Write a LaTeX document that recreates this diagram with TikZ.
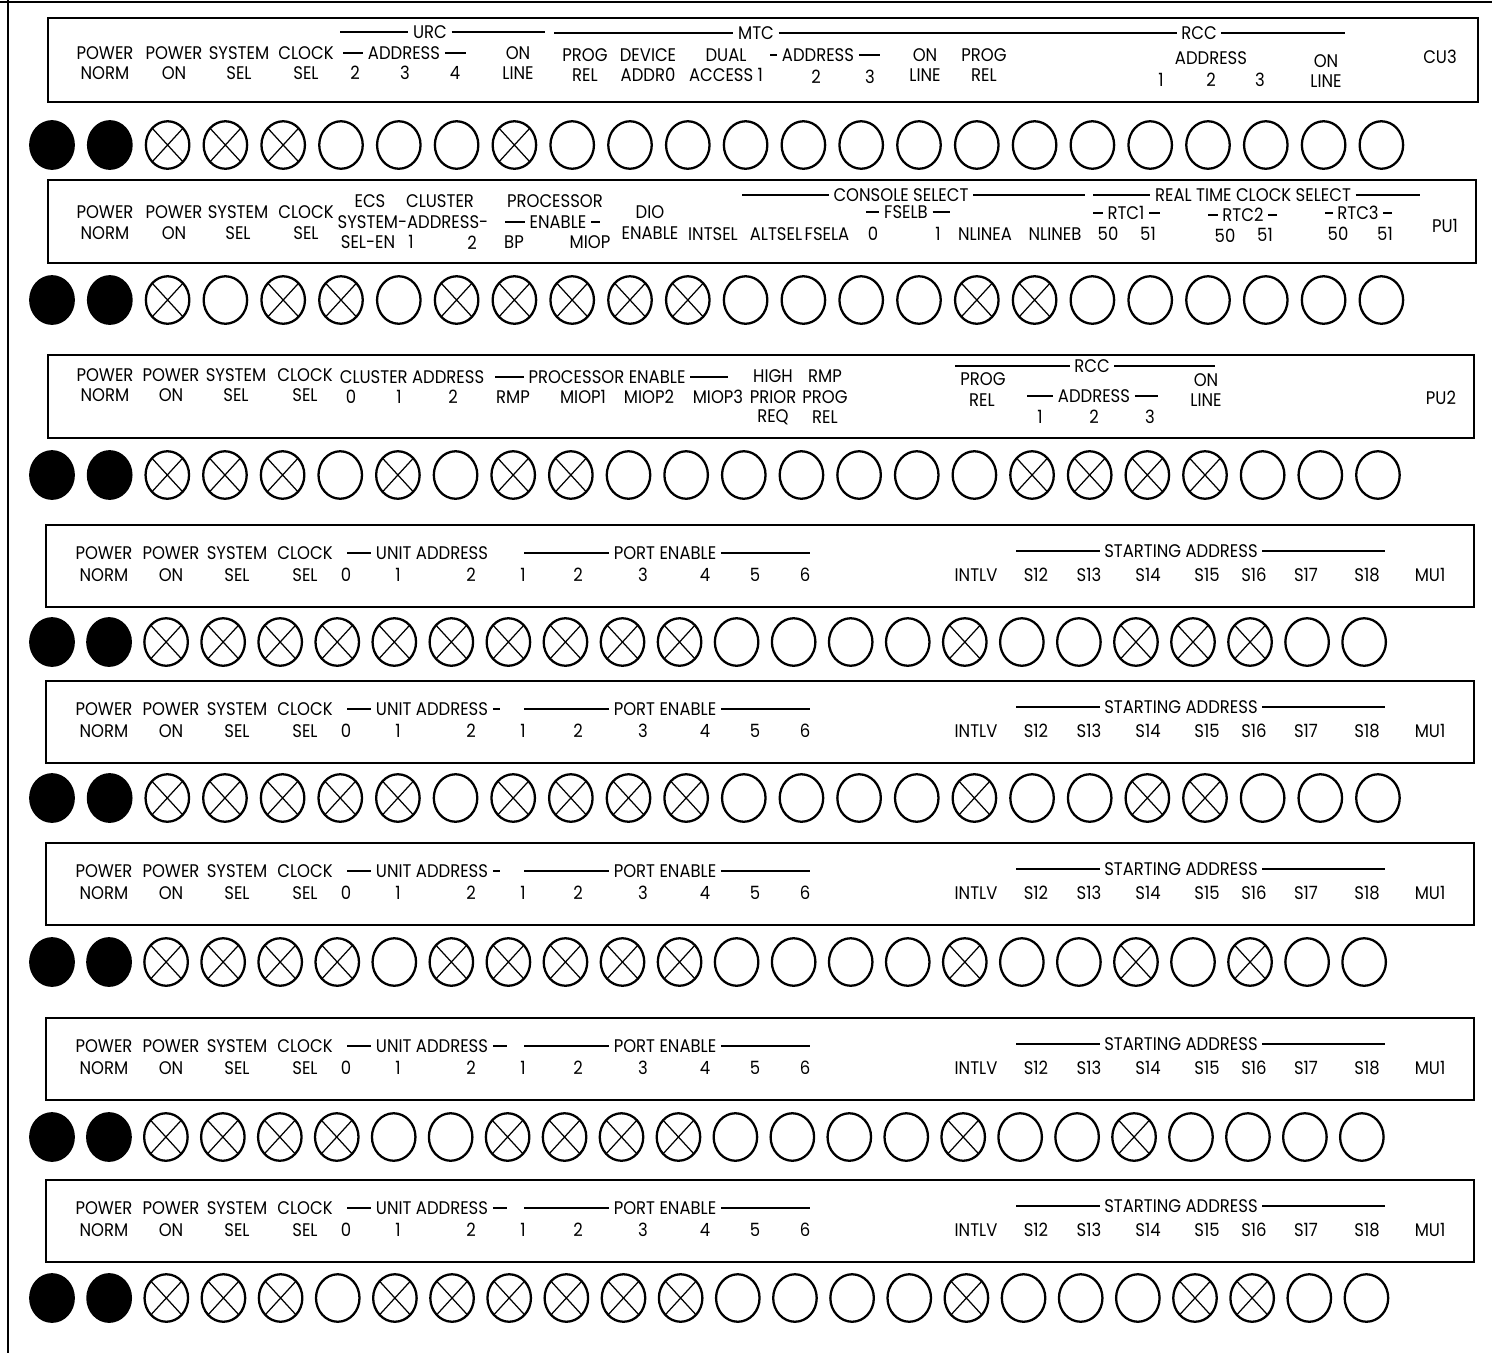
\documentclass[tikz,border=0pt]{standalone}
\usepackage{fontspec}
\setmainfont{Poppins}[FakeStretch=0.9]
\usepackage{tikz}
\usetikzlibrary{shapes.geometric}
\tikzset{
  panel/.style={draw,line width=1.3pt},
  lbl/.style={inner sep=0pt,font=\fontsize{10.4}{11}\selectfont},
  grp/.style={lbl,inner xsep=2.5pt},
  brk/.style={line width=0.7pt},
  lamp/.style={ellipse,draw,line width=1.3pt,minimum width=0.87cm,minimum height=0.95cm,inner sep=0pt},
  lampf/.style={lamp,fill=black},
  lampo/.style={lamp},
  lampx/.style={lamp,path picture={
    \draw[line width=0.7pt] (path picture bounding box.north east) -- (path picture bounding box.south west)
      (path picture bounding box.north west) -- (path picture bounding box.south east);}}
}

\begin{document}
\begin{tikzpicture}[x=0.02cm,y=-0.02cm]
\useasboundingbox (0,0) rectangle (1492,1353);
% sheet edges
\draw[brk] (0,2) -- (1492,2);
\draw[brk] (8,0) -- (8,1353);

% CU3 panel
\draw[panel] (48,18) rectangle (1478,102);
\foreach \x/\a/\b [count=\k] in {105/POWER/NORM,174/POWER/ON,239/SYSTEM/SEL,306/CLOCK/SEL,518/ON/LINE}
  {\node[lbl] (cu-a\k) at (\x,53) {\a}; \node[lbl] (cu-b\k) at (\x,73) {\b};}
\foreach \x/\a/\b [count=\k] in {585/PROG/REL,648/DEVICE/ADDR0,726/DUAL/ACCESS 1,925/ON/LINE,984/PROG/REL}
  {\node[lbl] (cu-c\k) at (\x,55) {\a}; \node[lbl] (cu-d\k) at (\x,75) {\b};}
\foreach \x/\d [count=\k] in {355/2,405/3,455/4} \node[lbl] (cu-u\k) at (\x,73) {\d};
\foreach \x/\d [count=\k] in {816/2,870/3} \node[lbl] (cu-m\k) at (\x,77) {\d};
\foreach \x/\d [count=\k] in {1161/1,1211/2,1260/3} \node[lbl] (cu-r\k) at (\x,80) {\d};
\node[grp] (cu-ua) at (404,53) {ADDRESS};
\draw[brk] (343,53) -- (cu-ua.west) (cu-ua.east) -- (466,53);
\node[grp] (cu-ma) at (818,55) {ADDRESS};
\draw[brk] (770,55) -- (cu-ma.west) (cu-ma.east) -- (880,55);
\node[lbl] (cu-ra) at (1211,58) {ADDRESS};
\node[lbl] (cu-on) at (1326,61) {ON};
\node[lbl] (cu-li) at (1326,81) {LINE};
\node[lbl] (cu) at (1440,57) {CU3};
\node[grp] (urc) at (430,32) {URC};
\node[grp] (mtc) at (756,33) {MTC};
\node[grp] (rcc) at (1199,33) {RCC};
\draw[brk] (340,32) -- (urc.west) (urc.east) -- (545,32);
\draw[brk] (554,33) -- (mtc.west) (mtc.east) -- (rcc.west) (rcc.east) -- (1345,33);

% PU1 panel
\draw[panel] (48,180) rectangle (1476,263);
\foreach \x/\a/\b [count=\k] in {105/POWER/NORM,174/POWER/ON,238/SYSTEM/SEL,306/CLOCK/SEL,650/DIO/ENABLE}
  {\node[lbl] (pa-a\k) at (\x,212) {\a}; \node[lbl] (pa-b\k) at (\x,233) {\b};}
\foreach \x/\a [count=\k] in {713/INTSEL,776/ALTSEL,827/FSELA,873/0,938/1,985/NLINEA,1055/NLINEB,1108/50,1148/51,1338/50,1385/51}
  \node[lbl] (pa-c\k) at (\x,234) {\a};
\node[lbl] (pa-r2a) at (1225,236) {50};
\node[lbl] (pa-r2b) at (1265,235) {51};
\node[lbl] (pa-ecs) at (370,201) {ECS};
\node[lbl] (pa-cl) at (440,201) {CLUSTER};
\node[lbl] (pa-sa) at (413,222) {SYSTEM-ADDRESS-};
\node[lbl] (pa-se) at (368,242) {SEL-EN};
\node[lbl] (pa-s1) at (411,242) {1};
\node[lbl] (pa-s2) at (472,243) {2};
\node[lbl] (pa-pr) at (555,201) {PROCESSOR};
\node[grp] (pa-en) at (558,222) {ENABLE};
\draw[brk] (505,222) -- (pa-en.west) (pa-en.east) -- (600,222);
\node[lbl] (pa-bp) at (514,242) {BP};
\node[lbl] (pa-mi) at (590,242) {MIOP};
\node[grp] (pa-cs) at (901,195) {CONSOLE SELECT};
\draw[brk] (742,195) -- (pa-cs.west) (pa-cs.east) -- (1085,195);
\node[grp] (pa-fb) at (906,212) {FSELB};
\draw[brk] (866,212) -- (pa-fb.west) (pa-fb.east) -- (950,212);
\node[grp] (pa-rt) at (1253,195) {REAL TIME CLOCK SELECT};
\draw[brk] (1093,195) -- (pa-rt.west) (pa-rt.east) -- (1420,195);
\foreach \x/\y/\a/\l/\r in {1126/213/RTC1/1093/1160,1243/215/RTC2/1208/1277,1358/213/RTC3/1325/1392}
  {\node[grp] (pa-\a) at (\x,\y) {\a}; \draw[brk] (\l,\y) -- (pa-\a.west) (pa-\a.east) -- (\r,\y);}
\node[lbl] (pu1) at (1445,226) {PU1};

% PU2 panel
\draw[panel] (48,355) rectangle (1474,438);
\foreach \x/\a/\b [count=\k] in {105/POWER/NORM,171/POWER/ON,236/SYSTEM/SEL,305/CLOCK/SEL}
  {\node[lbl] (pb-a\k) at (\x,375) {\a}; \node[lbl] (pb-b\k) at (\x,395) {\b};}
\node[lbl] (pb-ca) at (412,377) {CLUSTER ADDRESS};
\foreach \x/\a [count=\k] in {351/0,399/1,453/2,513/RMP,583/MIOP1,649/MIOP2,718/MIOP3}
  \node[lbl] (pb-c\k) at (\x,397) {\a};
\node[grp] (pb-pe) at (607,377) {PROCESSOR ENABLE};
\draw[brk] (495,377) -- (pb-pe.west) (pb-pe.east) -- (728,377);
\foreach \x/\a/\b/\c [count=\k] in {773/HIGH/PRIOR/REQ,825/RMP/PROG/REL}
  {\node[lbl] (pb-h\k) at (\x,376) {\a}; \node[lbl] (pb-i\k) at (\x,397) {\b}; \node[lbl] (pb-j\k) at (\x,417) {\c};}
\node[grp] (pb-rcc) at (1092,366) {RCC};
\draw[brk] (955,366) -- (pb-rcc.west) (pb-rcc.east) -- (1215,366);
\node[lbl] (pb-pg) at (983,379) {PROG};
\node[lbl] (pb-rl) at (982,400) {REL};
\node[grp] (pb-ad) at (1094,396) {ADDRESS};
\draw[brk] (1027,396) -- (pb-ad.west) (pb-ad.east) -- (1158,396);
\foreach \x/\d [count=\k] in {1040/1,1094/2,1150/3} \node[lbl] (pb-r\k) at (\x,417) {\d};
\node[lbl] (pb-on) at (1206,380) {ON};
\node[lbl] (pb-li) at (1206,400) {LINE};
\node[lbl] (pu2) at (1441,398) {PU2};

% MU1 panels
\foreach \t/\n/\e in {525/d/0,681/e/7,843/f/7,1018/g/14,1180/h/14}{
  \draw[panel] (46,\t) rectangle (1474,\t+82);
  \foreach \x/\a/\b [count=\k] in {104/POWER/NORM,171/POWER/ON,237/SYSTEM/SEL,305/CLOCK/SEL}
    {\node[lbl] (m\n-a\k) at (\x,\t+28) {\a}; \node[lbl] (m\n-b\k) at (\x,\t+50) {\b};}
  \node[grp] (m\n-ua) at (432,\t+28) {UNIT ADDRESS};
  \draw[brk] (347,\t+28) -- (m\n-ua.west) (m\n-ua.east) -- ++(\e,0);
  \node[grp] (m\n-pe) at (665,\t+28) {PORT ENABLE};
  \draw[brk] (524,\t+28) -- (m\n-pe.west) (m\n-pe.east) -- (810,\t+28);
  \foreach \x/\a [count=\k] in {346/0,398/1,471/2,523/1,578/2,643/3,705/4,755/5,805/6,976/INTLV,1036/S12,1089/S13,1148/S14,1207/S15,1254/S16,1306/S17,1367/S18,1430/MU1}
    \node[lbl] (m\n-c\k) at (\x,\t+50) {\a};
  \node[grp] (m\n-sa) at (1181,\t+26) {STARTING ADDRESS};
  \draw[brk] (1016,\t+26) -- (m\n-sa.west) (m\n-sa.east) -- (1385,\t+26);
}

% lamp rows
\foreach \s [count=\k] in {f,f,x,x,x,o,o,o,x,o,o,o,o,o,o,o,o,o,o,o,o,o,o,o}
  \node[lamp\s] (ra\k) at ({52+(\k-1)*57.8},145) {};
\foreach \s [count=\k] in {f,f,x,o,x,x,o,x,x,x,x,x,o,o,o,o,x,x,o,o,o,o,o,o}
  \node[lamp\s] (rb\k) at ({52+(\k-1)*57.8},300) {};
\foreach \s [count=\k] in {f,f,x,x,x,o,x,o,x,x,o,o,o,o,o,o,o,x,x,x,x,o,o,o}
  \node[lamp\s] (rc\k) at ({52+(\k-1)*57.65},475) {};
\foreach \s [count=\k] in {f,f,x,x,x,x,x,x,x,x,x,x,o,o,o,o,x,o,o,x,x,x,o,o}
  \node[lamp\s] (rd\k) at ({52+(\k-1)*57.05},642) {};
\foreach \s [count=\k] in {f,f,x,x,x,x,x,o,x,x,x,x,o,o,o,o,x,o,o,x,x,o,o,o}
  \node[lamp\s] (re\k) at ({52+(\k-1)*57.65},798) {};
\foreach \s [count=\k] in {f,f,x,x,x,x,o,x,x,x,x,x,o,o,o,o,x,o,o,x,o,x,o,o}
  \node[lamp\s] (rf\k) at ({52+(\k-1)*57.05},962) {};
\foreach \s [count=\k] in {f,f,x,x,x,x,o,o,x,x,x,x,o,o,o,o,x,o,o,x,o,o,o,o}
  \node[lamp\s] (rg\k) at ({52+(\k-1)*56.95},1137) {};
\foreach \s [count=\k] in {f,f,x,x,x,o,x,x,x,x,x,x,o,o,o,o,x,o,o,o,x,x,o,o}
  \node[lamp\s] (rh\k) at ({52+(\k-1)*57.15},1298) {};
\end{tikzpicture}
\end{document}
